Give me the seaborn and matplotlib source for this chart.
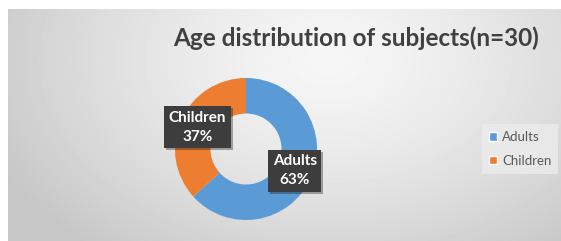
"""
Donut chart: age distribution of subjects (n=30).
"""

import matplotlib
matplotlib.use("Agg")
import matplotlib.pyplot as plt
import matplotlib.patheffects as pe
from matplotlib.patches import Patch
import numpy as np
import seaborn as sns

# data
groups = ["Adults", "Children"]
counts = [19, 11]
title = "Age distribution of subjects(n=30)"

colors = ["#5B9BD5", "#ED7D31"]

sns.set_style("white")
plt.rcParams["font.family"] = ["Lato", "DejaVu Sans"]

W, H = 561, 241
fig = plt.figure(figsize=(W / 100, H / 100), dpi=100)
fig.patch.set_facecolor("white")

# radial grey gradient background of the chart area
bg = fig.add_axes([8 / W, 0, (W - 8) / W, (H - 9) / H])
yy, xx = np.mgrid[0:232, 0:553]
dist = np.hypot((xx - 320) / 1.0, (yy - 50) * 1.5)
shade = np.clip(0.965 - 0.16 * (dist / 330) ** 1.4, 0.78, 1)
bg.imshow(shade, cmap="gray", vmin=0, vmax=1, aspect="auto", interpolation="bilinear")
bg.set_axis_off()

# donut
cx, cy, r = 246, 149, 71
ax = fig.add_axes([(cx - r) / W, (H - cy - r) / H, 2 * r / W, 2 * r / H])
wedges, _ = ax.pie(counts, colors=colors, startangle=90, counterclock=False,
                   radius=1, wedgeprops=dict(width=0.5, edgecolor="none"))
ax.set_xlim(-1, 1)
ax.set_ylim(-1, 1)
ax.set_axis_off()

total = sum(counts)
for w, name, c in zip(wedges, groups, counts):
    mid = np.deg2rad((w.theta1 + w.theta2) / 2)
    x, y = 0.75 * np.cos(mid), 0.75 * np.sin(mid)
    t = ax.text(x, y, f"{name}\n{round(100 * c / total)}%", ha="center", va="center",
                color="white", fontsize=11, fontweight="bold", linespacing=1.45,
                bbox=dict(boxstyle="square,pad=0.3", fc="#3d3d3d", ec="none"))
    t.get_bbox_patch().set_path_effects(
        [pe.SimplePatchShadow(offset=(1.5, -1.5), alpha=0.35), pe.Normal()])

fig.text(356 / W, 1 - 38 / H, title, ha="center", va="center",
         fontsize=17.5, fontweight="bold", color="#404040")

handles = [Patch(facecolor=c, label=g) for g, c in zip(groups, colors)]
leg = fig.legend(handles=handles, loc="center", bbox_to_anchor=(520 / W, 1 - 149 / H),
                 frameon=True, fancybox=False, fontsize=9.5, handlelength=0.6,
                 handleheight=0.6, handletextpad=0.4, labelspacing=0.9,
                 borderpad=0.5, labelcolor="#595959")
leg.get_frame().set_facecolor("#ececec")
leg.get_frame().set_edgecolor("none")
leg.get_frame().set_alpha(0.8)

fig.savefig("out.png", dpi=100)
